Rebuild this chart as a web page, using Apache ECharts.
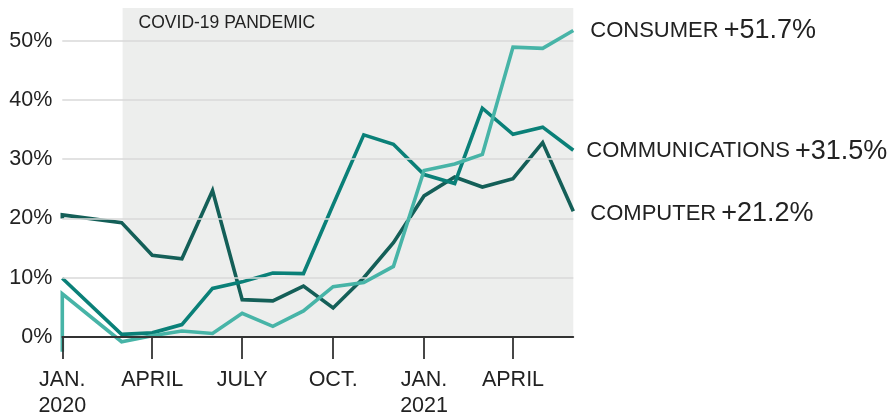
<!DOCTYPE html>
<html><head><meta charset="utf-8">
<script src="https://cdn.jsdelivr.net/npm/echarts@6/dist/echarts.min.js"></script>
<style>html,body{margin:0;padding:0;background:#fff}#c{width:894px;height:419px}</style>
</head><body><div id="c"></div>
<script>
const months = ['2020-01-01','2020-03-01','2020-04-01','2020-05-01','2020-06-01','2020-07-01','2020-08-01','2020-09-01','2020-10-01','2020-11-01','2020-12-01','2021-01-01','2021-02-01','2021-03-01','2021-04-01','2021-05-01','2021-06-01'];
const consumerStart = -2.5;
const consumer = [7.3, -0.8, 0.2, 1.0, 0.6, 4.0, 1.8, 4.4, 8.5, 9.2, 11.9, 28.1, 29.2, 30.8, 48.9, 48.7, 51.7];
const communications = [9.9, 0.45, 0.7, 2.1, 8.2, 9.3, 10.8, 10.7, 22.3, 34.1, 32.5, 27.4, 25.9, 38.6, 34.2, 35.4, 31.5];
const computerStart = 20.0;
const computer = [20.6, 19.3, 13.8, 13.2, 24.7, 6.3, 6.1, 8.6, 4.9, 10.0, 15.9, 23.8, 27.0, 25.3, 26.7, 32.8, 21.2];
const seriesNames = ['COMPUTER', 'COMMUNICATIONS', 'CONSUMER'];
const tickDates = ['2020-01-01','2020-04-01','2020-07-01','2020-10-01','2021-01-01','2021-04-01'];
const tickLabels = ['JAN.\n2020','APRIL','JULY','OCT.','JAN.\n2021','APRIL'];
const yTicks = [0, 10, 20, 30, 40, 50];
const yMin = 0;
const yMax = 55.5;
const pandemicStart = '2020-03-02';
const annotation = 'COVID-19 PANDEMIC';

const FONT = '"Liberation Sans", Arial, Helvetica, sans-serif';
const origin = Date.parse(months[0]);
const day = s => (Date.parse(s) - origin) / 86400000;
const xMax = day(months[months.length - 1]);
const tickDays = tickDates.map(day);

function mk(name, start, vals, color, z, dist, off) {
  const data = [];
  if (start != null) data.push([0, start]);
  months.forEach((m, i) => data.push([day(m), vals[i]]));
  return {
    type: 'line', name, data, symbol: 'none', clip: false, z, silent: true,
    lineStyle: { color, width: 3.6, join: 'miter', cap: 'butt' },
    endLabel: {
      show: true, distance: dist, offset: off,
      formatter: p => '{a|' + name + '}{b|+' + p.value[1].toFixed(1) + '%}',
      rich: {
        a: { fontSize: 22, color: '#222', fontFamily: FONT },
        b: { fontSize: 27, color: '#222', fontFamily: FONT, padding: [0, 0, 0, 5] }
      }
    }
  };
}

const chart = echarts.init(document.getElementById('c'), null, { renderer: 'canvas' });
const shade = {
  type: 'line', data: [], z: 1, silent: true,
  markArea: {
    silent: true,
    itemStyle: { color: '#edeeed' },
    label: { show: true, position: 'insideTopLeft', distance: 0, offset: [16, 6], color: '#222', fontSize: 17.5, fontFamily: FONT },
    data: [[{ name: annotation, xAxis: day(pandemicStart), yAxis: yMin }, { xAxis: xMax, yAxis: yMax }]]
  }
};
const gridLines = {
  type: 'line', data: [], z: 1.5, silent: true,
  markLine: {
    silent: true, symbol: 'none', animation: false,
    lineStyle: { color: '#d8d8d8', width: 1.5, type: 'solid' },
    label: { show: true, position: 'start', distance: 10, formatter: p => p.value + '%', color: '#222', fontSize: 21.5, fontFamily: FONT },
    data: yTicks.map(v => ({ yAxis: v }))
  }
};
const sComputer = mk(seriesNames[0], computerStart, computer, '#145f58', 3, 17, [0, 2.5]);
const sComm = mk(seriesNames[1], null, communications, '#0a8078', 4, 13, [0, 1]);
const sCons = mk(seriesNames[2], consumerStart, consumer, '#47b4a7', 5, 17, [0, 0]);

chart.setOption({
  animation: false,
  backgroundColor: '#fff',
  textStyle: { fontFamily: FONT },
  grid: { left: 62.3, right: 320.7, top: 8, bottom: 76.3 },
  xAxis: {
    type: 'value', min: 0, max: xMax, z: 6,
    axisLine: { show: true, onZero: true, lineStyle: { color: '#333', width: 1.8 } },
    axisTick: { show: true, customValues: tickDays, length: 22, inside: false, lineStyle: { color: '#333', width: 1.8 } },
    axisLabel: {
      show: true, customValues: tickDays, margin: 30, fontSize: 21.5, lineHeight: 26, color: '#222', fontFamily: FONT, align: 'center',
      alignMinLabel: 'center', alignMaxLabel: 'center',
      formatter: v => { const i = tickDays.indexOf(v); return i >= 0 ? tickLabels[i] : ''; }
    },
    splitLine: { show: false }
  },
  yAxis: {
    type: 'value', min: yMin, max: yMax, interval: 10,
    axisLine: { show: false }, axisTick: { show: false },
    axisLabel: { show: false },
    splitLine: { show: false }
  },
  series: [shade, gridLines, sComputer, sComm, sCons]
});
</script>
</body></html>
